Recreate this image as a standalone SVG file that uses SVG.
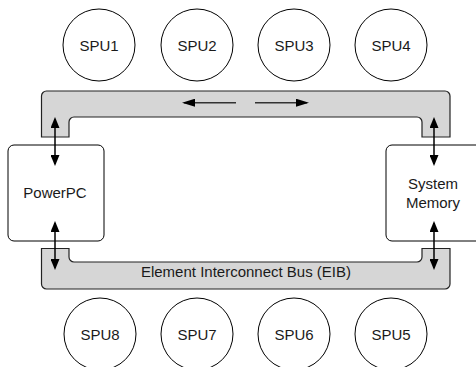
<svg xmlns="http://www.w3.org/2000/svg" width="476" height="367" viewBox="0 0 476 367">
<style>
text{font-family:"Liberation Sans",Arial,sans-serif;font-size:15px;fill:#1a1a1a;text-anchor:middle}
.spu{fill:#fff;stroke:#000;stroke-width:1}
.box{fill:#fff;stroke:#000;stroke-width:1}
.bus{fill:#d6d6d6;stroke:#222;stroke-width:1.2}
.v{stroke:#000;stroke-width:1.5;fill:none;marker-start:url(#ah);marker-end:url(#ah)}
.h{stroke:#333;stroke-width:1.6;fill:none;marker-end:url(#ah2)}
</style>
<defs>
<marker id="ah" markerUnits="userSpaceOnUse" markerWidth="11" markerHeight="9" refX="9" refY="4.5" orient="auto-start-reverse"><path d="M0,0 L11,4.5 L0,9 z" fill="#000"/></marker>
<marker id="ah2" markerUnits="userSpaceOnUse" markerWidth="13" markerHeight="8" refX="11" refY="4" orient="auto"><path d="M0,0 L13,4 L0,8 z" fill="#000"/></marker>
</defs>
<g id="bus-top"><path class="bus" d="M41.5,137 L41.5,96 A5,5 0 0 1 46.5,91 L445,91 A5,5 0 0 1 450,96 L450,137 L422,137 L422,122 A5,5 0 0 0 417,117 L74,117 A5,5 0 0 0 69,122 L69,137 Z"/></g>
<g id="bus-bottom"><path class="bus" d="M41.5,248.5 L69,248.5 L69,257 A5,5 0 0 0 74,262 L417,262 A5,5 0 0 0 422,257 L422,248.5 L450,248.5 L450,284 A5,5 0 0 1 445,289 L46.5,289 A5,5 0 0 1 41.5,284 Z"/><text x="246" y="277">Element Interconnect Bus (EIB)</text></g>
<g id="powerpc"><rect class="box" x="8" y="145" width="96" height="96" rx="6"/><text x="55" y="198">PowerPC</text></g>
<g id="memory"><rect class="box" x="386" y="145" width="96" height="96" rx="6"/><text x="433" y="188.5">System</text><text x="433" y="208">Memory</text></g>
<g id="spu1"><circle class="spu" cx="99" cy="45" r="36"/><text x="99" y="50.5">SPU1</text></g>
<g id="spu2"><circle class="spu" cx="197" cy="45" r="36"/><text x="197" y="50.5">SPU2</text></g>
<g id="spu3"><circle class="spu" cx="294" cy="45" r="36"/><text x="294" y="50.5">SPU3</text></g>
<g id="spu4"><circle class="spu" cx="391" cy="45" r="36"/><text x="391" y="50.5">SPU4</text></g>
<g id="spu8"><circle class="spu" cx="100" cy="334" r="36"/><text x="100" y="339.5">SPU8</text></g>
<g id="spu7"><circle class="spu" cx="197" cy="334" r="36"/><text x="197" y="339.5">SPU7</text></g>
<g id="spu6"><circle class="spu" cx="294" cy="334" r="36"/><text x="294" y="339.5">SPU6</text></g>
<g id="spu5"><circle class="spu" cx="391" cy="334" r="36"/><text x="391" y="339.5">SPU5</text></g>
<g id="connectors">
<line class="v" x1="55" y1="119" x2="55" y2="164"/>
<line class="v" x1="434" y1="119" x2="434" y2="164"/>
<line class="v" x1="55" y1="223" x2="55" y2="268"/>
<line class="v" x1="434" y1="223" x2="434" y2="268"/>
<line class="h" x1="236" y1="102.7" x2="184" y2="102.7"/>
<line class="h" x1="255" y1="102.7" x2="307" y2="102.7"/>
</g>
</svg>
